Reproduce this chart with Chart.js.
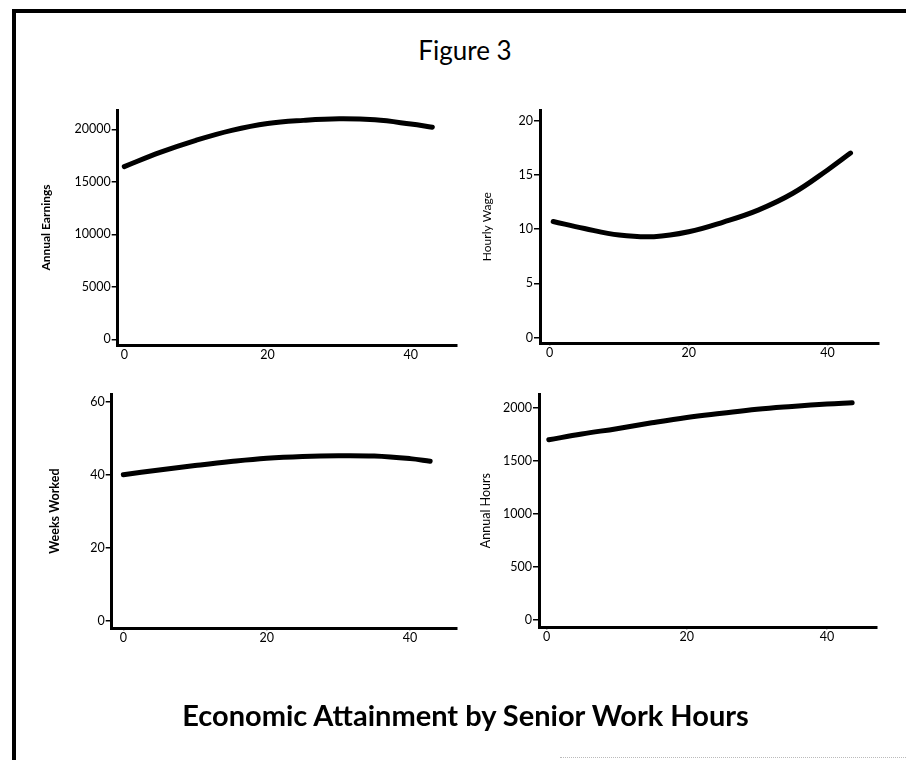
<!DOCTYPE html>
<html>
<head>
<meta charset="utf-8">
<title>Figure 3</title>
<script src="https://cdn.jsdelivr.net/npm/chart.js@4.4.1/dist/chart.umd.min.js"></script>
<style>
  html, body { margin: 0; padding: 0; background: #fff; }
  body { width: 906px; height: 760px; position: relative; overflow: hidden; font-family: Lato, "Open Sans", sans-serif; }
  canvas { position: absolute; left: 0; top: 0; }
  .frame { position: absolute; left: 12px; top: 9px; width: 900px; height: 760px; border-top: 4px solid #000; border-left: 4px solid #000; }
  .scanline { position: absolute; left: 560px; width: 346px; top: 757px; border-top: 1px dotted #bbb; }
  .fig { position: absolute; left: 0; width: 930px; top: 34px; text-align: center; font-size: 26px; line-height: 32px; }
  .caption { position: absolute; left: 0; width: 931px; top: 697px; text-align: center; font-size: 29px; font-weight: bold; line-height: 36px; }
</style>
</head>
<body>
<div class="frame"></div>
<div class="scanline"></div>
<div class="fig">Figure 3</div>
<canvas id="earningsChart" width="906" height="760"></canvas>
<canvas id="wageChart" width="906" height="760"></canvas>
<canvas id="weeksChart" width="906" height="760"></canvas>
<canvas id="hoursChart" width="906" height="760"></canvas>
<div class="caption">Economic Attainment by Senior Work Hours</div>
<script>
// senior work hours (x) and fitted values
const earnHours = [0, 5, 10, 15, 20, 25, 30, 35, 40, 43]
const earnings = [16450, 17800, 18950, 19900, 20550, 20850, 21000, 20900, 20500, 20200]

const wageHours = [0.5, 5, 10, 15, 20, 25, 30, 35, 40, 43.3]
const hourlyWage = [10.7, 10.05, 9.45, 9.3, 9.75, 10.65, 11.75, 13.3, 15.45, 17.0]

const weeksHours = [0, 5, 10, 15, 20, 25, 30, 35, 40, 42.8]
const weeksWorked = [40.0, 41.3, 42.5, 43.6, 44.5, 45.0, 45.2, 45.1, 44.4, 43.7]

const annHours = [0.3, 5, 10, 15, 20, 25, 30, 35, 40, 43.6]
const annualHours = [1700, 1755, 1805, 1860, 1910, 1950, 1988, 2015, 2038, 2050]

// tick labels
const xTicks = [0, 20, 40]
const earningsTicks = [0, 5000, 10000, 15000, 20000]
const wageTicks = [0, 5, 10, 15, 20]
const weeksTicks = [0, 20, 40, 60]
const hoursTicks = [0, 500, 1000, 1500, 2000]

const PAGE_W = 906
const PAGE_H = 760
const X_AXIS_H = 22

function panel(id, xs, ys, yLabel, yTicks, opts) {
  const area = opts.area
  const points = xs.map((x, i) => ({ x: x, y: ys[i] }))
  return new Chart(document.getElementById(id), {
    type: "scatter",
    data: {
      datasets: [{
        data: points,
        showLine: true,
        borderColor: "#000",
        borderWidth: 5,
        borderCapStyle: "round",
        tension: 0.4,
        pointRadius: 0,
        fill: false
      }]
    },
    options: {
      responsive: false,
      animation: false,
      events: [],
      layout: {
        padding: {
          left: area.left - opts.yWidth,
          top: area.top,
          right: PAGE_W - area.right,
          bottom: PAGE_H - area.bottom - X_AXIS_H
        }
      },
      plugins: { legend: { display: false }, tooltip: { enabled: false } },
      scales: {
        x: {
          type: "linear",
          min: opts.xMin,
          max: opts.xMax,
          afterBuildTicks: (s) => { s.ticks = xTicks.map(v => ({ value: v })) },
          afterFit: (s) => { s.height = X_AXIS_H },
          border: { display: true, color: "#000", width: 3 },
          grid: { display: true, drawOnChartArea: false, drawTicks: true, tickLength: 2, color: "#000", lineWidth: 1.5 },
          ticks: { color: "#000", padding: 0, maxRotation: 0, font: { family: "Lato", size: 12.5 }, callback: (v) => String(v) }
        },
        y: {
          type: "linear",
          min: opts.yMin,
          max: opts.yMax,
          afterBuildTicks: (s) => { s.ticks = yTicks.map(v => ({ value: v })) },
          afterFit: (s) => { s.width = opts.yWidth },
          border: { display: true, color: "#000", width: 3 },
          grid: { display: true, drawOnChartArea: false, drawTicks: true, tickLength: 6, color: "#000", lineWidth: 1.5 },
          ticks: { color: "#000", padding: 1, font: { family: "Lato", size: 12.5 }, callback: (v) => String(v) },
          title: {
            display: true,
            text: yLabel,
            color: "#000",
            padding: { top: 0, bottom: 0 },
            font: { family: "Lato", size: opts.titleSize, weight: opts.bold ? "bold" : "normal" }
          }
        }
      }
    }
  })
}

panel("earningsChart", earnHours, earnings, "Annual Earnings", earningsTicks, {
  area: { left: 117.7, top: 110, right: 456.7, bottom: 345 },
  xMin: -0.92, xMax: 46.4, yMin: -543, yMax: 21838, yWidth: 79, titleSize: 12, bold: true
})
panel("wageChart", wageHours, hourlyWage, "Hourly Wage", wageTicks, {
  area: { left: 540, top: 110, right: 878.3, bottom: 343.3 },
  xMin: -1.4, xMax: 47.3, yMin: -0.52, yMax: 20.97, yWidth: 60, titleSize: 12, bold: false
})
panel("weeksChart", weeksHours, weeksWorked, "Weeks Worked", weeksTicks, {
  area: { left: 111.7, top: 394, right: 456.7, bottom: 628.3 },
  xMin: -1.62, xMax: 46.5, yMin: -2.08, yMax: 62.1, yWidth: 64, titleSize: 12.5, bold: true
})
panel("hoursChart", annHours, annualHours, "Annual Hours", hoursTicks, {
  area: { left: 539, top: 394, right: 876.7, bottom: 627.3 },
  xMin: -1.1, xMax: 47.1, yMin: -69, yMax: 2132, yWidth: 61, titleSize: 12.5, bold: false
})
</script>
</body>
</html>
